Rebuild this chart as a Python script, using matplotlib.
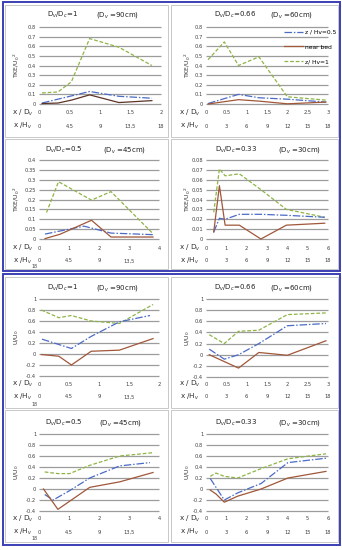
import matplotlib
matplotlib.use("Agg")
import matplotlib.pyplot as plt
from matplotlib.patches import Rectangle

W, H = 342, 550
plt.rcParams['font.family'] = ['DejaVu Sans']

# ---------------- data ----------------
# TKE panels
tke1_x_g = [0.05, 0.31, 0.53, 0.83, 1.31, 1.85]
tke1_g = [0.115, 0.125, 0.23, 0.68, 0.59, 0.40]
tke1_x_b = [0.05, 0.83, 1.31, 1.85]
tke1_b = [0.01, 0.13, 0.08, 0.06]
tke1_x_r = [0.05, 0.31, 0.53, 0.83, 1.31, 1.85]
tke1_r = [0.005, 0.01, 0.04, 0.095, 0.015, 0.035]

tke2_x = [0.05, 0.45, 0.8, 1.3, 2.0, 2.95]
tke2_g = [0.46, 0.645, 0.40, 0.49, 0.075, 0.04]
tke2_x_b = [0.05, 0.8, 1.3, 2.0, 2.95]
tke2_b = [0.005, 0.10, 0.065, 0.05, 0.02]
tke2_x_r = [0.05, 0.8, 1.3, 2.0, 2.95]
tke2_r = [0.0, 0.045, 0.03, 0.002, 0.02]

tke3_x_g = [0.25, 0.65, 1.75, 2.4, 3.8]
tke3_g = [0.134, 0.29, 0.197, 0.24, 0.027]
tke3_x_b = [0.2, 1.5, 2.4, 3.8]
tke3_b = [0.025, 0.065, 0.03, 0.022]
tke3_x_r = [0.2, 0.7, 1.75, 2.4, 3.8]
tke3_r = [0.002, 0.024, 0.095, 0.01, 0.01]

tke4_x = [0.38, 0.66, 0.94, 1.64, 2.7, 3.95, 5.84]
tke4_g = [0.027, 0.071, 0.064, 0.066, 0.05, 0.030, 0.022]
tke4_b = [0.007, 0.021, 0.020, 0.025, 0.025, 0.024, 0.022]
tke4_r = [0.007, 0.054, 0.014, 0.014, 0.0, 0.014, 0.016]

# U/U0 panels
u1_x = [0.04, 0.33, 0.54, 0.87, 1.34, 1.9]
u1_g = [0.80, 0.66, 0.70, 0.60, 0.555, 0.90]
u1_x_b = [0.05, 0.54, 0.87, 1.34, 1.85]
u1_b = [0.27, 0.10, 0.32, 0.585, 0.70]
u1_r = [-0.01, -0.04, -0.20, 0.05, 0.07, 0.28]

u2_x = [0.08, 0.45, 0.8, 1.3, 2.0, 2.95]
u2_g = [0.36, 0.20, 0.42, 0.44, 0.72, 0.75]
u2_b = [0.10, -0.08, 0.0, 0.20, 0.52, 0.56]
u2_x_r = [0.08, 0.8, 1.3, 2.0, 2.95]
u2_r = [0.0, -0.24, 0.04, -0.01, 0.25]

u3_x = [0.19, 0.63, 1.02, 1.69, 2.69, 3.8]
u3_g = [0.31, 0.28, 0.28, 0.43, 0.60, 0.66]
u3_x_b = [0.19, 0.47, 1.02, 1.69, 2.69, 3.7]
u3_b = [-0.10, -0.20, -0.03, 0.20, 0.42, 0.48]
u3_x_r = [0.15, 0.63, 1.69, 2.69, 3.8]
u3_r = [0.0, -0.37, 0.03, 0.13, 0.30]

u4_x = [0.21, 0.49, 0.9, 1.56, 2.71, 4.03, 5.9]
u4_g = [0.23, 0.29, 0.23, 0.20, 0.37, 0.55, 0.64]
u4_x_b = [0.21, 0.9, 1.56, 2.71, 4.03, 5.9]
u4_b = [0.19, -0.20, -0.07, 0.10, 0.48, 0.56]
u4_r = [-0.02, -0.09, -0.24, -0.13, 0.0, 0.20, 0.32]

titles_a = ["D$_v$/D$_c$=1", "D$_v$/D$_c$=0.66", "D$_v$/D$_c$=0.5", "D$_v$/D$_c$=0.33"]
titles_b = ["(D$_v$ =90cm)", "(D$_v$ =60cm)", "(D$_v$ =45cm)", "(D$_v$ =30cm)"]

dv_ticks_2 = [0, 0.5, 1, 1.5, 2]
dv_lbl_2 = ["0", "0.5", "1", "1.5", "2"]
hv_lbl_2 = ["0", "4.5", "9", "13,5", "18"]
dv_ticks_3 = [0, 0.5, 1, 1.5, 2, 2.5, 3]
dv_lbl_3 = ["0", "0.5", "1", "1.5", "2", "2.5", "3"]
hv_lbl_3 = ["0", "3", "6", "9", "12", "15", "18"]
dv_ticks_4 = [0, 1, 2, 3, 4]
dv_lbl_4 = ["0", "1", "2", "3", "4"]
hv_lbl_4 = ["0", "4.5", "9", "13,5", ""]
dv_ticks_6 = [0, 1, 2, 3, 4, 5, 6]
dv_lbl_6 = ["0", "1", "2", "3", "4", "5", "6"]
hv_lbl_6 = ["0", "3", "6", "9", "12", "15", "18"]
hv_lbl_2w = ["0", "4.5", "9", "13,5", ""]

yt_08 = [0, 0.1, 0.2, 0.3, 0.4, 0.5, 0.6, 0.7, 0.8]
yl_08 = ["0", "0.1", "0.2", "0.3", "0.4", "0.5", "0.6", "0.7", "0.8"]
yt_04 = [0, 0.05, 0.1, 0.15, 0.2, 0.25, 0.3, 0.35, 0.4]
yl_04 = ["0", "0.05", "0.1", "0.15", "0.2", "0.25", "0.3", "0.35", "0.4"]
yt_008 = [0, 0.01, 0.02, 0.03, 0.04, 0.05, 0.06, 0.07, 0.08]
yl_008 = ["0", "0.01", "0.02", "0.03", "0.04", "0.05", "0.06", "0.07", "0.08"]
yt_u = [-0.4, -0.2, 0, 0.2, 0.4, 0.6, 0.8, 1]
yl_u = ["-0.4", "-0.2", "0", "0.2", "0.4", "0.6", "0.8", "1"]

legend_labels = ["z / Hv=0.5", "near bed", "z/ Hv=1"]

# ---------------- style ----------------
C_G = "#8FB446"
C_B = "#4B6BC6"
C_R = "#A0573A"
C_BORDER = "#3B3FB6"
C_BOX = "#BFBFBF"
C_GRID = "#9C9C9C"

fig = plt.figure(figsize=(W / 100, H / 100), dpi=100)
fig.patch.set_facecolor("white")


def fx(x):
    return x / W


def fy(y):
    return 1 - y / H


def add_ax(x0, y0, x1, y1):
    return fig.add_axes([fx(x0), fy(y1), (x1 - x0) / W, (y1 - y0) / H])


# outer blue borders and gray boxes (drawn in a background axes)
bg = fig.add_axes([0, 0, 1, 1], zorder=-5)
bg.set_xlim(0, W)
bg.set_ylim(H, 0)
bg.axis("off")
for (x0, y0, x1, y1) in [(3, 2, 340, 271), (3, 274, 340, 545)]:
    bg.add_patch(Rectangle((x0, y0), x1 - x0, y1 - y0, fill=False,
                           edgecolor=C_BORDER, lw=1.4))
for (x0, y0, x1, y1) in [(5, 5, 168, 137), (171, 5, 338, 137),
                         (5, 139, 168, 269), (171, 139, 338, 269),
                         (5, 277, 168, 408), (171, 277, 338, 408),
                         (5, 410, 168, 542), (171, 410, 338, 542)]:
    bg.add_patch(Rectangle((x0, y0), x1 - x0, y1 - y0, fill=False,
                           edgecolor=C_BOX, lw=0.6))

PX = 0.72  # points per pixel
TICK_FS = 3.7


def panel(box, xlim, yt, yl, dvt, dvl, hvl, rows, ylabel, ylx, title_y, tpos,
          series, wrap18=None, legend=False):
    x0, y0, x1, y1 = box
    ax = add_ax(x0, y0, x1, y1)
    ax.patch.set_visible(False)
    ax.set_xlim(*xlim)
    ax.set_ylim(yt[0], yt[-1])
    for s in ax.spines.values():
        s.set_visible(False)
    ax.set_yticks(yt)
    ax.set_yticklabels(yl, fontsize=TICK_FS, color="#404040")
    ax.set_xticks([])
    ax.tick_params(axis="y", length=0, pad=2)
    ax.hlines(yt, xlim[0], xlim[1], colors=C_GRID, linewidths=0.9, zorder=2,
              clip_on=False)
    handles = []
    for (xs, ys, c, ls, lw) in series:
        h, = ax.plot(xs, ys, color=c, ls=ls, lw=lw, zorder=3, clip_on=False)
        handles.append(h)
    # x label rows
    dv_off = (rows[0] - y1) * PX
    hv_off = (rows[1] - y1) * PX
    for v, a, b in zip(dvt, dvl, hvl):
        ax.annotate(a, xy=(v, 0), xycoords=("data", "axes fraction"),
                    xytext=(0, -dv_off), textcoords="offset points",
                    ha="center", va="center", fontsize=TICK_FS, color="#404040")
        if b:
            ax.annotate(b, xy=(v, 0), xycoords=("data", "axes fraction"),
                        xytext=(0, -hv_off), textcoords="offset points",
                        ha="center", va="center", fontsize=TICK_FS, color="#404040")
    lx = x0 - 16
    fig.text(fx(lx), fy(rows[0]), "x / D$_v$", fontsize=5.2, ha="center", va="center",
             color="#303030")
    fig.text(fx(lx), fy(rows[1]), "x /H$_v$", fontsize=5.2, ha="center", va="center",
             color="#303030")
    if wrap18 is not None:
        fig.text(fx(lx + 11), fy(wrap18), "18", fontsize=3.3, ha="center", va="center",
                 color="#404040")
    fig.text(fx(ylx), fy((y0 + y1) / 2), ylabel, fontsize=4.4, rotation=90,
             ha="center", va="center", color="#303030")
    fig.text(fx(tpos[0]), fy(title_y), tpos[2], fontsize=5.0, ha="center", va="center",
             color="#202020")
    fig.text(fx(tpos[1]), fy(title_y), tpos[3], fontsize=5.0, ha="center", va="center",
             color="#202020")
    if legend:
        ax.legend([handles[1], handles[2], handles[0]], legend_labels,
                  loc="upper right", bbox_to_anchor=(1.1, 1.02), frameon=False,
                  fontsize=4.3, handlelength=3.2, labelspacing=1.6,
                  handletextpad=0.2, borderpad=0.2)
    return ax


LW = 0.9
DASH_G = (0, (3, 1.5))
DASH_B = (0, (6, 1.5, 1.2, 1.5))

tke_lab = "TKE/U$_0$$^2$"
u_lab = "U/U$_0$"

# Top panel
panel((39, 27, 161, 104), (0, 2), yt_08, yl_08, dv_ticks_2, dv_lbl_2, hv_lbl_2,
      (113, 126), tke_lab, 17, 15, (62, 118, titles_a[0], titles_b[0]),
      [(tke1_x_g, tke1_g, C_G, DASH_G, LW),
       (tke1_x_b, tke1_b, C_B, DASH_B, LW),
       (tke1_x_r, tke1_r, "#5C3326", "-", LW)])
panel((206, 27, 328, 104), (0, 3), yt_08, yl_08, dv_ticks_3, dv_lbl_3, hv_lbl_3,
      (113, 126), tke_lab, 188, 15, (235, 292, titles_a[1], titles_b[1]),
      [(tke2_x, tke2_g, C_G, DASH_G, LW),
       (tke2_x_b, tke2_b, C_B, DASH_B, LW),
       (tke2_x_r, tke2_r, C_R, "-", LW)], legend=True)
panel((39, 160, 159, 239), (0, 4), yt_04, yl_04, dv_ticks_4, dv_lbl_4, hv_lbl_4,
      (248, 261), tke_lab, 17, 150, (64, 125, titles_a[2], titles_b[2]),
      [(tke3_x_g, tke3_g, C_G, DASH_G, LW),
       (tke3_x_b, tke3_b, C_B, DASH_B, LW),
       (tke3_x_r, tke3_r, C_R, "-", LW)], wrap18=267)
panel((206, 160, 328, 239), (0, 6), yt_008, yl_008, dv_ticks_6, dv_lbl_6, hv_lbl_6,
      (248, 261), tke_lab, 188, 150, (236, 300, titles_a[3], titles_b[3]),
      [(tke4_x, tke4_g, C_G, DASH_G, LW),
       (tke4_x, tke4_b, C_B, DASH_B, LW),
       (tke4_x, tke4_r, C_R, "-", LW)])

# Bottom panel
panel((39, 299, 159, 376), (0, 2), yt_u, yl_u, dv_ticks_2, dv_lbl_2, hv_lbl_2w,
      (384, 397), u_lab, 17, 288, (62, 118, titles_a[0], titles_b[0]),
      [(u1_x, u1_g, C_G, DASH_G, LW),
       (u1_x_b, u1_b, C_B, DASH_B, LW),
       (u1_x, u1_r, C_R, "-", LW)], wrap18=404)
panel((206, 299, 328, 377), (0, 3), yt_u, yl_u, dv_ticks_3, dv_lbl_3, hv_lbl_3,
      (384, 397), u_lab, 188, 288, (235, 292, titles_a[1], titles_b[1]),
      [(u2_x, u2_g, C_G, DASH_G, LW),
       (u2_x, u2_b, C_B, DASH_B, LW),
       (u2_x_r, u2_r, C_R, "-", LW)])
panel((39, 434, 159, 511), (0, 4), yt_u, yl_u, dv_ticks_4, dv_lbl_4, hv_lbl_4,
      (519, 532), u_lab, 17, 423, (64, 121, titles_a[2], titles_b[2]),
      [(u3_x, u3_g, C_G, DASH_G, LW),
       (u3_x_b, u3_b, C_B, DASH_B, LW),
       (u3_x_r, u3_r, C_R, "-", LW)], wrap18=539)
panel((206, 434, 328, 511), (0, 6), yt_u, yl_u, dv_ticks_6, dv_lbl_6, hv_lbl_6,
      (519, 532), u_lab, 188, 423, (236, 300, titles_a[3], titles_b[3]),
      [(u4_x, u4_g, C_G, DASH_G, LW),
       (u4_x_b, u4_b, C_B, DASH_B, LW),
       (u4_x, u4_r, C_R, "-", LW)])

fig.savefig("out.png", dpi=100, facecolor="white")
